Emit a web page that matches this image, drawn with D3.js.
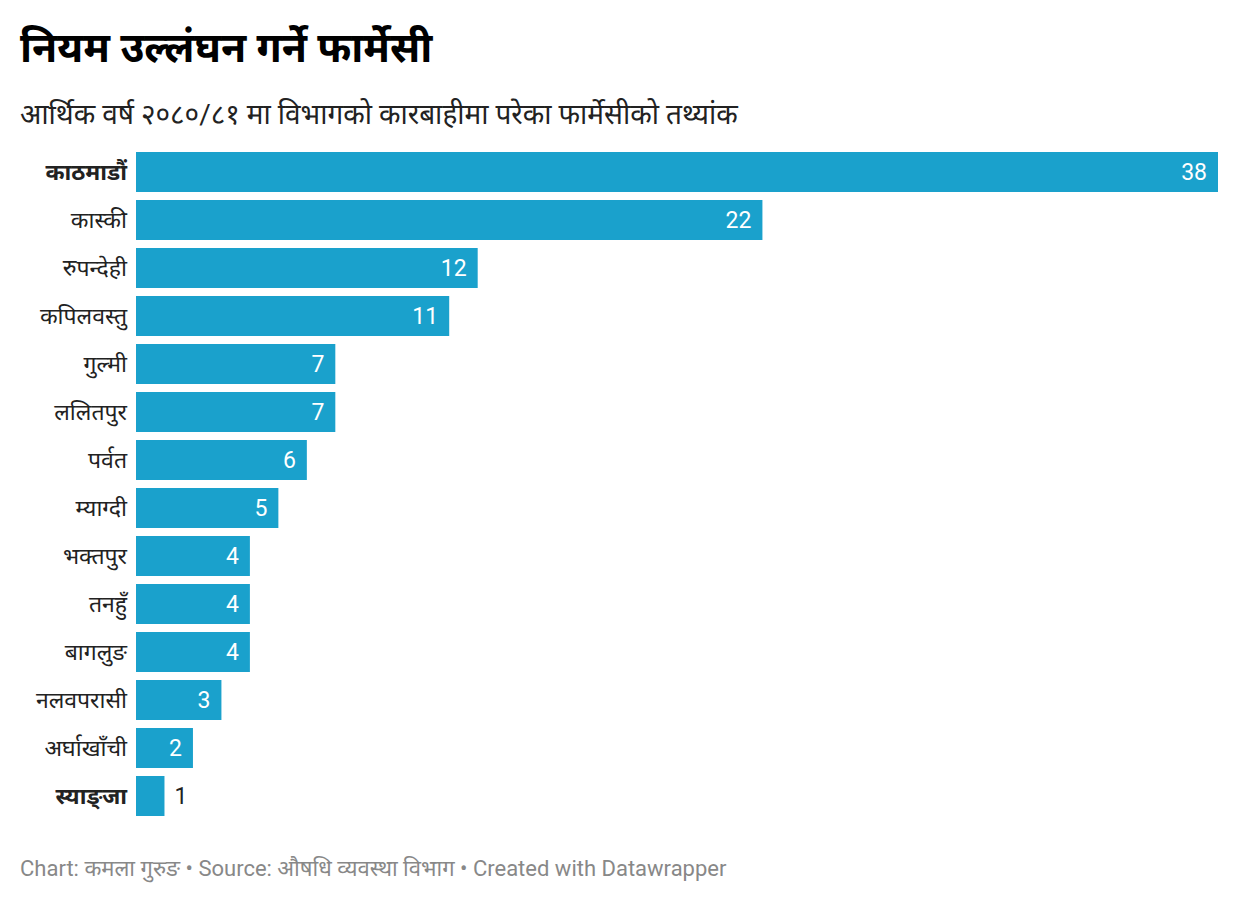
<!DOCTYPE html>
<html><head><meta charset="utf-8">
<script src="https://cdn.jsdelivr.net/npm/d3@7"></script>
<style>
body{margin:0;background:#fff;font-family:Roboto,"Noto Sans",sans-serif;}
svg{display:block;}
</style></head><body>
<svg id="c" width="1240" height="904"></svg>
<script>
const categories = ["काठमाडौं","कास्की","रुपन्देही","कपिलवस्तु","गुल्मी","ललितपुर","पर्वत","म्याग्दी","भक्तपुर","तनहुँ","बागलुङ","नलवपरासी","अर्घाखाँची","स्याङ्जा"];
const values = [38,22,12,11,7,7,6,5,4,4,4,3,2,1];
const highlighted = ["काठमाडौं","स्याङ्जा"];
const title = "नियम उल्लंघन गर्ने फार्मेसी";
const subtitle = "आर्थिक वर्ष २०८०/८१ मा विभागको कारबाहीमा परेका फार्मेसीको तथ्यांक";
const footer = "Chart: कमला गुरुङ • Source: औषधि व्यवस्था विभाग • Created with Datawrapper";

const data = categories.map((c,i)=>({c, v: values[i]}));
const svg = d3.select("#c");
const x = d3.scaleLinear().domain([0,38]).range([136,1218]);
const y = d3.scaleBand().domain(categories).range([148,820]).paddingInner(1/6).paddingOuter(1/12);

svg.append("text").attr("x",20).attr("y",62).attr("font-size",41).attr("font-weight",700)
  .attr("fill","#000").text(title);
svg.append("text").attr("x",20).attr("y",124).attr("font-size",28).attr("fill","#222").text(subtitle);

svg.append("g").selectAll("rect").data(data).join("rect")
  .attr("x",x(0)).attr("y",d=>y(d.c)).attr("width",d=>x(d.v)-x(0)).attr("height",y.bandwidth())
  .attr("fill","#1aa1cc");

svg.append("g").selectAll("text").data(data).join("text")
  .attr("x",127).attr("y",d=>y(d.c)+y.bandwidth()/2).attr("dy","0.35em")
  .attr("text-anchor","end").attr("font-size",23)
  .attr("font-weight",d=>highlighted.includes(d.c)?700:400)
  .attr("fill","#222").text(d=>d.c);

svg.append("g").selectAll("text").data(data).join("text")
  .attr("x",d=> d.v>1 ? x(d.v)-11 : x(d.v)+10)
  .attr("y",d=>y(d.c)+y.bandwidth()/2).attr("dy","0.36em")
  .attr("text-anchor",d=> d.v>1 ? "end":"start").attr("font-size",23)
  .attr("fill",d=> d.v>1 ? "#fff":"#222").text(d=>d.v);

svg.append("text").attr("x",20).attr("y",876).attr("font-size",22).attr("fill","#888").text(footer);
</script></body></html>
